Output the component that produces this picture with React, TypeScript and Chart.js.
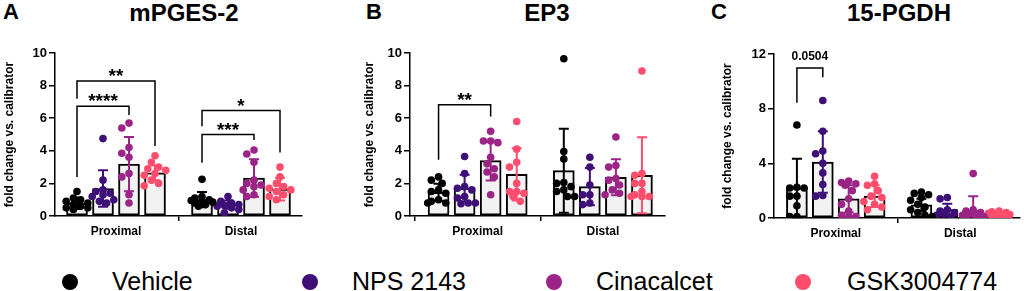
import React, { useEffect, useRef } from "react";
import { Chart, registerables } from "chart.js";
Chart.register(...registerables);

const FONT = "'Liberation Sans', Arial, Helvetica, sans-serif";

// ---------- shared ----------
const groups = ["Proximal", "Distal"];
const treatments = ["Vehicle", "NPS 2143", "Cinacalcet", "GSK3004774"];
const colors = ["#000000", "#3f0f78", "#9c2487", "#ff4d6d"];
const yAxisTitle = "fold change vs. calibrator";

// ---------- Panel A: mPGES-2 ----------
const mpgesMean = [
  [0.78, 1.68, 3.18, 2.65],
  [1.0, 0.7, 2.33, 1.65],
];
const mpgesSd = [
  [0.35, 1.12, 1.66, 0.45],
  [0.47, 0.25, 1.15, 0.7],
];
const mpgesPoints = [
  [
    [1.5, 1.1, 1.0, 0.9, 0.8, 0.7, 0.6, 0.5, 0.5, 0.4],
    [4.75, 2.2, 1.6, 1.5, 1.4, 1.3, 1.2, 1.0, 0.9, 0.8],
    [5.7, 5.4, 4.2, 3.85, 3.6, 2.6, 2.4, 1.3, 0.8],
    [3.7, 3.3, 3.0, 2.9, 2.8, 2.6, 2.5, 2.2, 2.0, 1.85],
  ],
  [
    [2.25, 1.2, 1.1, 1.0, 0.95, 0.9, 0.85, 0.8, 0.7, 0.6],
    [1.2, 0.9, 0.8, 0.7, 0.65, 0.6, 0.5, 0.4, 0.2],
    [4.05, 3.8, 3.3, 2.2, 2.0, 1.9, 1.8, 1.6, 1.3, 1.2],
    [3.0, 2.4, 2.0, 1.8, 1.7, 1.6, 1.5, 1.3, 1.2, 1.0],
  ],
];
// [group, fromSeries, toSeries, top, leftLegBottom, rightLegBottom, label]
const mpgesBrackets: [number, number, number, number, number, number, string][] = [
  [0, 0, 3, 8.28, 7.2, 4.3, "**"],
  [0, 0, 2, 6.73, 2.4, 6.2, "****"],
  [1, 0, 3, 6.47, 5.5, 3.9, "*"],
  [1, 0, 2, 5.0, 3.27, 4.67, "***"],
];

// ---------- Panel B: EP3 ----------
const ep3Mean = [
  [1.45, 1.7, 3.4, 2.55],
  [2.78, 1.8, 2.38, 2.5],
];
const ep3Sd = [
  [0.53, 0.83, 1.22, 1.6],
  [2.58, 1.14, 1.1, 2.33],
];
const ep3Points = [
  [
    [2.4, 2.2, 2.0, 1.6, 1.5, 1.4, 1.0, 0.9, 0.8, 0.8],
    [3.65, 2.6, 1.8, 1.7, 1.6, 1.2, 1.1, 0.8, 0.8, 0.75],
    [5.2, 4.6, 4.6, 4.5, 3.6, 3.2, 2.9, 2.7, 2.4, 1.3],
    [5.8, 4.1, 3.3, 3.0, 2.0, 1.5, 1.5, 1.4, 1.2, 0.9],
  ],
  [
    [9.65, 3.95, 3.5, 2.05, 2.0, 1.8, 1.6, 1.5, 1.2, 1.2],
    [3.6, 3.0, 1.9, 1.3, 1.3, 0.8, 0.7],
    [4.85, 3.1, 3.0, 2.3, 2.2, 1.9, 1.6, 1.4, 1.3],
    [8.9, 2.6, 2.5, 2.0, 2.0, 1.5, 1.3, 1.2, 1.2, 1.2],
  ],
];
const ep3Brackets: [number, number, number, number, number, number, string][] = [
  [0, 0, 2, 6.82, 3.45, 6.1, "**"],
];

// ---------- Panel C: 15-PGDH ----------
const pgdhMean = [
  [2.2, 4.1, 1.4, 1.6],
  [0.96, 0.62, 0.55, 0.3],
];
const pgdhSd = [
  [2.14, 2.25, 1.0, 0.8],
  [0.45, 0.42, 1.05, 0.15],
];
const pgdhPoints = [
  [
    [6.8, 2.25, 2.2, 2.2, 1.6, 1.6, 0.9, 0.1, 0.1],
    [8.6, 6.35, 4.9, 4.7, 4.0, 3.3, 2.45, 1.65, 1.6],
    [2.7, 2.6, 2.5, 2.4, 2.0, 1.4, 1.0, 0.5, 0.2, 0.1, 0.1],
    [3.05, 2.5, 2.4, 2.0, 1.6, 1.5, 1.2, 1.0, 0.8, 0.6],
  ],
  [
    [1.9, 1.8, 1.7, 1.5, 1.3, 1.0, 0.8, 0.6, 0.4, 0.2, 0.1],
    [1.5, 1.4, 0.6, 0.5, 0.4, 0.3, 0.2, 0.1],
    [3.25, 0.6, 0.5, 0.4, 0.3, 0.2, 0.2, 0.1, 0.1],
    [0.5, 0.45, 0.4, 0.35, 0.3, 0.25, 0.2, 0.15, 0.1, 0.05],
  ],
];
const pgdhBrackets: [number, number, number, number, number, number, string][] = [
  [0, 0, 1, 10.97, 8.44, 10.3, "0.0504"],
];

// ---------- layout ----------
const SERIES_OFFSETS = [-1.5, -0.5, 0.5, 1.5].map((k) => k * 0.208);
const PX_PER_X = 125;
const CANVAS_H = 250;

type Cfg = {
  title: string;
  letter: string;
  mean: number[][];
  sd: number[][];
  points: number[][][];
  brackets: [number, number, number, number, number, number, string][];
  yMax: number;
  yStep: number;
  left: number;
  width: number;
  axisWidth: number;
  padRight: number;
  plotTop: number;
  plotBottom: number;
  xMin: number;
  xMax: number;
  titleX: number;
  letterX: number;
};

const panels: Cfg[] = [
  {
    title: "mPGES-2", letter: "A", mean: mpgesMean, sd: mpgesSd, points: mpgesPoints, brackets: mpgesBrackets,
    yMax: 10, yStep: 2, left: 0, width: 310, axisWidth: 55, padRight: 8, plotTop: 53, plotBottom: 216,
    xMin: -0.488, xMax: 1.488, titleX: 184, letterX: 3,
  },
  {
    title: "EP3", letter: "B", mean: ep3Mean, sd: ep3Sd, points: ep3Points, brackets: ep3Brackets,
    yMax: 10, yStep: 2, left: 360, width: 312, axisWidth: 50, padRight: 7, plotTop: 53, plotBottom: 216,
    xMin: -0.54, xMax: 1.496, titleX: 547, letterX: 366,
  },
  {
    title: "15-PGDH", letter: "C", mean: pgdhMean, sd: pgdhSd, points: pgdhPoints, brackets: pgdhBrackets,
    yMax: 12, yStep: 4, left: 718, width: 306, axisWidth: 56, padRight: 3, plotTop: 54, plotBottom: 218,
    xMin: -0.496, xMax: 1.48, titleX: 899, letterX: 711,
  },
];

function swarm(vals: number[], pxPerY: number): number[] {
  const R = 3.8;
  const D = 2 * R - 0.6;
  const STEP = 3.6;
  const cands = [0, -1, 1, -2, 2, -3, 3].map((k) => k * STEP);
  const placed: { x: number; y: number }[] = [];
  return vals.map((v) => {
    const y = v * pxPerY;
    let best = 0;
    let bestScore = -1;
    for (const c of cands) {
      let minD = Infinity;
      for (const p of placed) minD = Math.min(minD, Math.hypot(p.x - c, p.y - y));
      if (minD >= D) {
        best = c;
        break;
      }
      if (minD > bestScore) {
        bestScore = minD;
        best = c;
      }
    }
    placed.push({ x: best, y });
    return best;
  });
}

function Panel({ cfg }: { cfg: Cfg }) {
  const ref = useRef<HTMLCanvasElement>(null);
  useEffect(() => {
    if (!ref.current) return;
    const pxPerY = (cfg.plotBottom - cfg.plotTop) / cfg.yMax;
    const datasets: any[] = [];
    treatments.forEach((t, s) => {
      datasets.push({
        type: "bar",
        label: t,
        data: groups.map((_, gi) => ({ x: gi + SERIES_OFFSETS[s], y: cfg.mean[gi][s] })),
        backgroundColor: "#f2f2f2",
        borderColor: "#000000",
        borderWidth: 2,
        borderSkipped: false,
        barThickness: 21,
        grouped: false,
        order: 2,
        sd: groups.map((_, gi) => cfg.sd[gi][s]),
        errColor: colors[s],
      });
    });
    treatments.forEach((t, s) => {
      const pts: { x: number; y: number }[] = [];
      groups.forEach((_, gi) => {
        const vals = cfg.points[gi][s];
        const offs = swarm(vals, pxPerY);
        vals.forEach((v, i) => pts.push({ x: gi + SERIES_OFFSETS[s] + offs[i] / PX_PER_X, y: v }));
      });
      datasets.push({
        type: "scatter",
        label: t,
        data: pts,
        backgroundColor: colors[s],
        borderColor: colors[s],
        borderWidth: 0,
        pointRadius: 3.8,
        showLine: false,
        order: 1,
      });
    });

    const errorBars = {
      id: "errorBars",
      afterDatasetsDraw(chart: any) {
        const ctx = chart.ctx;
        const ys = chart.scales.y;
        chart.data.datasets.forEach((ds: any, di: number) => {
          if (!ds.sd) return;
          const meta = chart.getDatasetMeta(di);
          meta.data.forEach((bar: any, i: number) => {
            const m = ds.data[i].y;
            const sd = ds.sd[i];
            const x = bar.x;
            const yTop = ys.getPixelForValue(m + sd);
            const lowV = m - sd;
            const yBot = ys.getPixelForValue(Math.max(0, lowV));
            ctx.save();
            ctx.strokeStyle = ds.errColor;
            ctx.lineWidth = 2;
            ctx.beginPath();
            ctx.moveTo(x, yTop);
            ctx.lineTo(x, yBot);
            ctx.moveTo(x - 5, yTop);
            ctx.lineTo(x + 5, yTop);
            if (lowV > 0) {
              ctx.moveTo(x - 5, yBot);
              ctx.lineTo(x + 5, yBot);
            }
            ctx.stroke();
            ctx.restore();
          });
        });
      },
    };

    const brackets = {
      id: "brackets",
      afterDraw(chart: any) {
        const ctx = chart.ctx;
        const xs = chart.scales.x;
        const ys = chart.scales.y;
        cfg.brackets.forEach(([g, a, b, top, lb, rb, label]) => {
          const x1 = xs.getPixelForValue(g + SERIES_OFFSETS[a]);
          const x2 = xs.getPixelForValue(g + SERIES_OFFSETS[b]);
          const yT = ys.getPixelForValue(top);
          ctx.save();
          ctx.strokeStyle = "#000";
          ctx.lineWidth = 1.5;
          ctx.beginPath();
          ctx.moveTo(x1, ys.getPixelForValue(lb));
          ctx.lineTo(x1, yT);
          ctx.lineTo(x2, yT);
          ctx.lineTo(x2, ys.getPixelForValue(rb));
          ctx.stroke();
          const isStar = /^\*+$/.test(label);
          ctx.fillStyle = "#000";
          ctx.textAlign = "center";
          ctx.textBaseline = "alphabetic";
          if (isStar) {
            ctx.font = `bold 19px ${FONT}`;
            ctx.fillText(label, (x1 + x2) / 2, yT + 1);
          } else {
            ctx.font = `bold 12px ${FONT}`;
            ctx.fillText(label, (x1 + x2) / 2, yT - 8);
          }
          ctx.restore();
        });
      },
    };

    const chart = new Chart(ref.current, {
      type: "bar",
      data: { datasets },
      plugins: [errorBars, brackets],
      options: {
        responsive: false,
        maintainAspectRatio: false,
        animation: false,
        layout: { padding: { top: cfg.plotTop, right: cfg.padRight, left: 0, bottom: 0 } },
        plugins: { legend: { display: false }, tooltip: { enabled: false }, title: { display: false } },
        scales: {
          x: {
            type: "linear",
            min: cfg.xMin,
            max: cfg.xMax,
            offset: false,
            afterBuildTicks: (s: any) => {
              s.ticks = groups.map((_, i) => ({ value: i }));
            },
            afterFit: (s: any) => {
              s.height = CANVAS_H - cfg.plotBottom;
            },
            ticks: {
              callback: (v: any) => groups[v as number] ?? "",
              font: { family: FONT, size: 12, weight: "bold" },
              color: "#000",
              padding: 3,
              maxRotation: 0,
              autoSkip: false,
            },
            grid: { display: true, drawOnChartArea: false, drawTicks: true, tickLength: 5, color: "#000", lineWidth: 1.5 },
            border: { display: true, color: "#000", width: 1.5 },
          },
          y: {
            type: "linear",
            min: 0,
            max: cfg.yMax,
            afterFit: (s: any) => {
              s.width = cfg.axisWidth;
            },
            ticks: {
              stepSize: cfg.yStep,
              font: { family: FONT, size: 13, weight: "bold" },
              color: "#000",
              padding: 2,
            },
            grid: { display: true, drawOnChartArea: false, drawTicks: true, tickLength: 6, color: "#000", lineWidth: 1.5 },
            border: { display: true, color: "#000", width: 1.5 },
            title: {
              display: true,
              text: yAxisTitle,
              font: { family: FONT, size: 12, weight: "bold" },
              color: "#000",
              padding: { top: 2, bottom: 0 },
            },
          },
        },
      } as any,
    });
    return () => chart.destroy();
  }, [cfg]);

  return (
    <canvas
      ref={ref}
      width={cfg.width}
      height={CANVAS_H}
      style={{ position: "absolute", left: cfg.left, top: 0, width: cfg.width, height: CANVAS_H, display: "block" }}
    />
  );
}

const LEGEND_DOT_X = [70, 310, 554, 803];
const LEGEND_TEXT_X = [112, 352, 596, 847];

export default function App() {
  return (
    <div
      style={{
        position: "absolute",
        left: 0,
        top: 0,
        width: 1024,
        height: 291,
        background: "#fff",
        overflow: "hidden",
        fontFamily: FONT,
      }}
    >
      {panels.map((p) => (
        <React.Fragment key={p.title}>
          <div
            style={{
              position: "absolute",
              left: p.letterX,
              top: 1,
              fontSize: 22,
              fontWeight: "bold",
              lineHeight: "22px",
              color: "#000",
            }}
          >
            {p.letter}
          </div>
          <div
            style={{
              position: "absolute",
              left: p.titleX,
              top: 1,
              transform: "translateX(-50%)",
              fontSize: 24,
              fontWeight: "bold",
              lineHeight: "24px",
              color: "#000",
              whiteSpace: "nowrap",
            }}
          >
            {p.title}
          </div>
          <Panel cfg={p} />
        </React.Fragment>
      ))}
      {treatments.map((t, i) => (
        <React.Fragment key={t}>
          <div
            style={{
              position: "absolute",
              left: LEGEND_DOT_X[i] - 8,
              top: 281.5 - 8,
              width: 16,
              height: 16,
              borderRadius: "50%",
              background: colors[i],
            }}
          />
          <div
            style={{
              position: "absolute",
              left: LEGEND_TEXT_X[i],
              top: 269,
              fontSize: 25,
              lineHeight: "25px",
              color: "#000",
              whiteSpace: "nowrap",
            }}
          >
            {t}
          </div>
        </React.Fragment>
      ))}
    </div>
  );
}
